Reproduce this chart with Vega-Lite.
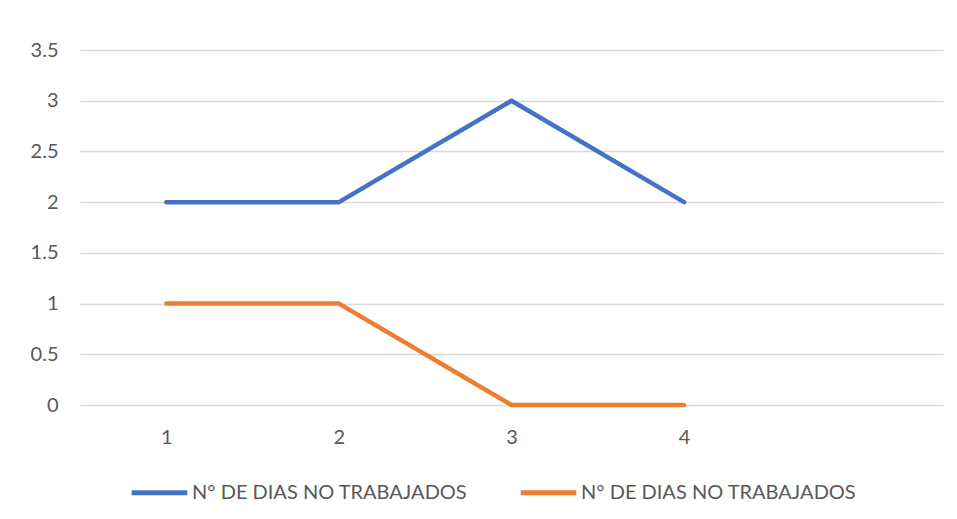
{
  "$schema": "https://vega.github.io/schema/vega-lite/v6.json",
  "width": 863,
  "height": 355,
  "autosize": {"type": "none"},
  "padding": {"left": 80, "top": 50, "right": 14, "bottom": 114},
  "background": "white",
  "data": {
    "values": [
      {"x": "1", "v": 2, "s": "A"},
      {"x": "2", "v": 2, "s": "A"},
      {"x": "3", "v": 3, "s": "A"},
      {"x": "4", "v": 2, "s": "A"},
      {"x": "1", "v": 1, "s": "B"},
      {"x": "2", "v": 1, "s": "B"},
      {"x": "3", "v": 0, "s": "B"},
      {"x": "4", "v": 0, "s": "B"}
    ]
  },
  "mark": {"type": "line", "strokeWidth": 4.5, "strokeCap": "round", "strokeJoin": "round"},
  "encoding": {
    "x": {
      "field": "x", "type": "ordinal",
      "scale": {"type": "point", "domain": ["1", "2", "3", "4", "5"], "padding": 0.5},
      "axis": {"title": null, "domain": false, "ticks": false, "labelAngle": 0, "labelPadding": 22,
               "labelExpr": "datum.value == '5' ? '' : datum.label",
               "labelFont": "Lato", "labelFontSize": 20, "labelColor": "#595959"}
    },
    "y": {
      "field": "v", "type": "quantitative",
      "scale": {"domain": [0, 3.5], "nice": false},
      "axis": {"title": null, "domain": false, "ticks": false, "values": [0, 0.5, 1, 1.5, 2, 2.5, 3, 3.5],
               "format": "~g", "labelPadding": 22, "gridColor": "#D9D9D9", "gridWidth": 1.5,
               "labelFont": "Lato", "labelFontSize": 20, "labelColor": "#595959"}
    },
    "color": {
      "field": "s", "type": "nominal",
      "scale": {"domain": ["A", "B"], "range": ["#4472C4", "#ED7D31"]},
      "legend": {
        "title": null, "orient": "none", "direction": "horizontal",
        "legendX": 49, "legendY": 412,
        "labelExpr": "'N° DE DIAS NO TRABAJADOS'",
        "symbolType": "stroke", "symbolSize": 3100, "symbolStrokeWidth": 5,
        "labelOffset": 2, "columnPadding": 42,
        "labelFont": "Lato", "labelFontSize": 20, "labelColor": "#595959", "labelLimit": 400
      }
    }
  },
  "config": {"view": {"stroke": null}}
}
